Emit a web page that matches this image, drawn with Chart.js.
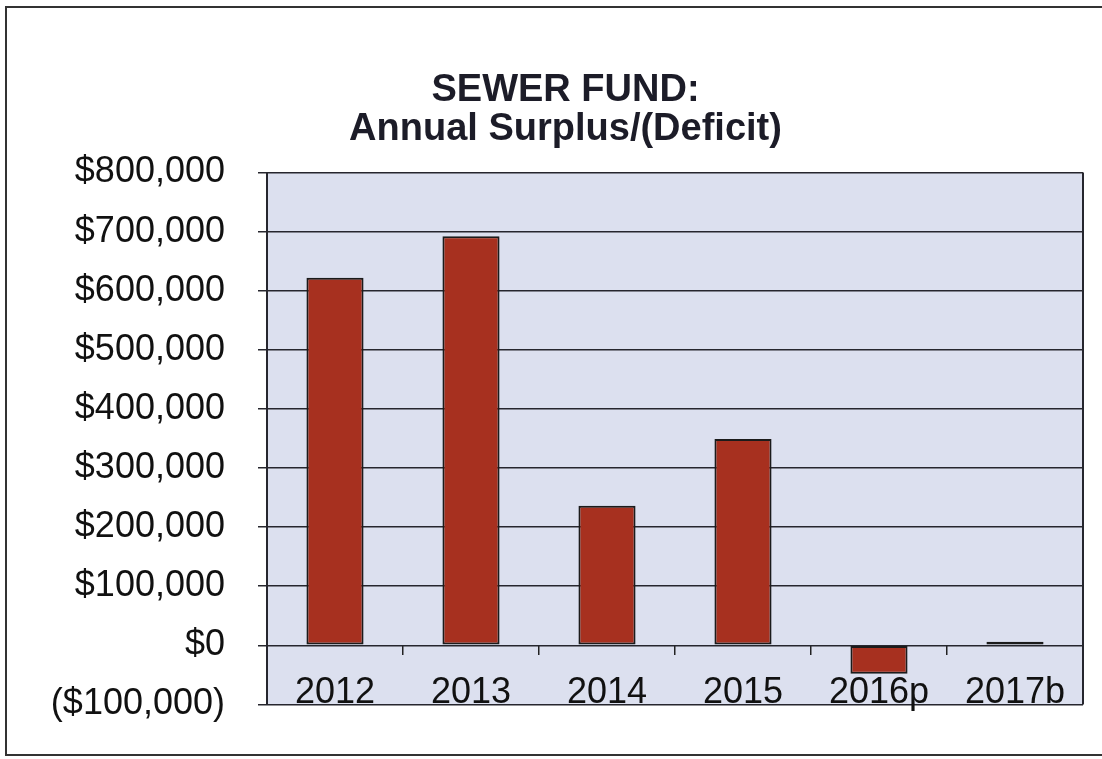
<!DOCTYPE html>
<html>
<head>
<meta charset="utf-8">
<title>Sewer Fund</title>
<script src="https://cdn.jsdelivr.net/npm/chart.js@4/dist/chart.umd.min.js"></script>
<style>
    html, body { margin: 0; padding: 0; background: #ffffff; }
    #wrap { position: relative; width: 1102px; height: 759px; }
    #frame {
        position: absolute; left: 5px; top: 6px; width: 1097px; height: 750px;
        border-left: 2px solid #333; border-top: 2px solid #333; border-bottom: 2px solid #333;
        box-sizing: border-box; pointer-events: none;
    }
</style>
</head>
<body>
<div id="wrap">
    <canvas id="sewerChart" width="1102" height="759"></canvas>
    <div id="frame"></div>
</div>
<script>
// data dari grafik
const years = ['2012', '2013', '2014', '2015', '2016p', '2017b'];
const surplus = [622000, 692000, 236000, 349000, -48000, 6000];
const yMin = -100000;
const yMax = 800000;
const yStep = 100000;

// format label sumbu Y: $800,000 / ($100,000)
function money(v) {
    const s = '$' + Math.abs(v).toLocaleString('en-US');
    return v < 0 ? '(' + s + ')' : s;
}

// warna latar area plot + garis tepi kanan
const plotBg = {
    id: 'plotBg',
    beforeDraw(chart) {
        const a = chart.chartArea;
        const ctx = chart.ctx;
        ctx.save();
        ctx.fillStyle = '#dce0ef';
        ctx.fillRect(a.left, a.top, a.right - a.left, a.bottom - a.top);
        ctx.restore();
    },
    afterDraw(chart) {
        const a = chart.chartArea;
        const ctx = chart.ctx;
        ctx.save();
        ctx.strokeStyle = '#26262e';
        ctx.lineWidth = 2;
        ctx.beginPath();
        ctx.moveTo(a.right, a.top);
        ctx.lineTo(a.right, a.bottom);
        ctx.stroke();
        ctx.restore();
    }
};

const ctx = document.getElementById('sewerChart');
new Chart(ctx.getContext('2d'), {
    type: 'bar',
    data: {
        labels: years,
        datasets: [{
            label: 'Annual Surplus/(Deficit)',
            data: surplus,
            backgroundColor: '#a7301f',
            borderColor: '#1b1b1b',
            borderWidth: 2,
            borderSkipped: false,
            categoryPercentage: 1,
            barPercentage: 0.42
        }]
    },
    options: {
        responsive: false,
        animation: false,
        layout: { padding: { left: 48, right: 19, top: 0, bottom: 51 } },
        plugins: {
            legend: { display: false },
            tooltip: { enabled: false },
            title: {
                display: true,
                text: ['SEWER FUND:', 'Annual Surplus/(Deficit)'],
                color: '#1c1c28',
                font: { family: 'Liberation Sans, Arial, sans-serif', size: 38, weight: 'bold', lineHeight: 1.02 },
                padding: { top: 71, bottom: 24 }
            }
        },
        scales: {
            x: {
                position: { y: 0 },
                offset: true,
                grid: {
                    offset: true,
                    drawOnChartArea: false,
                    drawTicks: true,
                    tickLength: 10,
                    color: '#222',
                    lineWidth: 1.5
                },
                border: { display: false },
                ticks: {
                    color: '#111',
                    padding: 16,
                    font: { family: 'Liberation Sans, Arial, sans-serif', size: 36 }
                }
            },
            y: {
                min: yMin,
                max: yMax,
                // lebar sumbu Y tetap supaya area plot mulai di x=267
                afterFit: (scale) => { scale.width = 219; },
                grid: {
                    color: '#26262e',
                    lineWidth: 1.5,
                    tickLength: 9
                },
                border: { display: true, color: '#26262e', width: 2 },
                ticks: {
                    stepSize: yStep,
                    padding: 33,
                    color: '#111',
                    font: { family: 'Liberation Sans, Arial, sans-serif', size: 36 },
                    callback: (v) => money(v)
                }
            }
        }
    },
    plugins: [plotBg]
});
</script>
</body>
</html>
